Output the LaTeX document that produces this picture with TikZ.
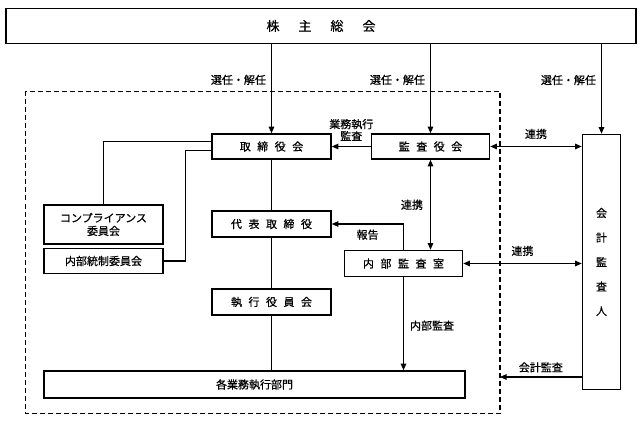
\documentclass[tikz,border=0pt]{standalone}
\usepackage{fontspec}
\newfontfamily\cjkfnt[FakeBold=0.6]{Noto Sans CJK JP}
\usetikzlibrary{arrows.meta,calc}
\newcommand{\jsepa}{\hspace{6.5pt}}
\newcommand{\jsepb}{\hspace{19pt}}
\begin{document}
\begin{tikzpicture}[x=1pt,y=-1pt,
  box/.style={draw,line width=1.6pt,inner sep=0pt,align=center,font=\cjkfnt\fontsize{11}{13}\selectfont},
  lab/.style={font=\cjkfnt\fontsize{11}{12}\selectfont,inner sep=0pt,align=center},
  conn/.style={line width=1.1pt},
  arr/.style={conn,-{Triangle[length=6.5pt,width=5.5pt]}},
  darr/.style={conn,{Triangle[length=6.5pt,width=5.5pt]}-{Triangle[length=6.5pt,width=5.5pt]}}]
\useasboundingbox (0,0) rectangle (642,422);
% dashed company frame
\draw[line width=1.3pt,dash pattern=on 5pt off 3pt] (25.5,91.5) rectangle (500,413.5);
% nodes
\node[box,minimum width=630pt,minimum height=35pt,font=\cjkfnt\fontsize{13}{15}\selectfont] (soukai) at (321,26) {株\jsepb 主\jsepb 総\jsepb 会};
\node[box,minimum width=119pt,minimum height=25pt] (tori) at (271.5,146.5) {取\jsepa 締\jsepa 役\jsepa 会};
\node[box,minimum width=118pt,minimum height=25pt] (kansa) at (430.5,146.5) {監\jsepa 査\jsepa 役\jsepa 会};
\node[box,minimum width=38pt,minimum height=255pt,font=\cjkfnt\fontsize{11}{24.5}\selectfont] (kaikei) at (601.5,262) {会\\計\\監\\査\\人};
\node[box,minimum width=119pt,minimum height=39pt] (comp) at (103.5,224.5) {コンプライアンス\\委員会};
\node[box,minimum width=119pt,minimum height=25pt] (naibu) at (103.5,261) {内部統制委員会};
\node[box,minimum width=119pt,minimum height=26pt] (daihyo) at (271.5,224) {代\jsepa 表\jsepa 取\jsepa 締\jsepa 役};
\node[box,minimum width=119pt,minimum height=26pt] (shikko) at (271.5,302) {執\jsepa 行\jsepa 役\jsepa 員\jsepa 会};
\node[box,minimum width=421pt,minimum height=27pt] (kaku) at (254.5,384.5) {各業務執行部門};
\node[box,minimum width=118pt,minimum height=26pt] (naikan) at (403.5,263.5) {内\jsepa 部\jsepa 監\jsepa 査\jsepa 室};
% election arrows
\draw[arr] (soukai.south -| tori.north) -- node[lab,pos=0.4,left=5pt] {選任・解任} (tori.north);
\draw[arr] (soukai.south -| kansa.north) -- node[lab,pos=0.4,left=5pt] {選任・解任} (kansa.north);
\draw[arr] (soukai.south -| kaikei.north) -- node[lab,pos=0.4,left=5pt] {選任・解任} (kaikei.north);
% audit of execution
\draw[arr] (kansa.west) -- node[lab,above=5pt] {業務執行\\監査} (tori.east);
% cooperation
\draw[darr] (kansa.east) -- node[lab,above=7pt] {連携} (kansa.east -| kaikei.west);
\draw[darr] (naikan.east) -- node[lab,above=7pt] {連携} (naikan.east -| kaikei.west);
\draw[darr] (kansa.south) -- node[lab,left=7pt] {連携} (kansa.south |- naikan.north);
% report
\draw[arr] (naikan.north) |- node[lab,pos=0.75,below=5pt] {報告} (daihyo.east);
% internal audit
\draw[arr] (naikan.south) -- node[lab,right=6pt,pos=0.52] {内部監査} (naikan.south |- kaku.north);
% accounting audit
\coordinate (dashE) at (500,377);
\draw[arr] (kaikei.west |- dashE) -- node[lab,above=4pt] {会計監査} (dashE);
% hierarchy line
\draw[conn] (tori.south) -- (daihyo.north);
\draw[conn] (daihyo.south) -- (shikko.north);
\draw[conn] (shikko.south) -- (shikko.south |- kaku.north);
% committees
\draw[conn] ($(tori.north west)!0.32!(tori.south west)$) -| (comp.north);
\draw[conn] ($(tori.north west)!0.64!(tori.south west)$) -| ($(naibu.east)+(22,0)$) -- (naibu.east);
\end{tikzpicture}
\end{document}
